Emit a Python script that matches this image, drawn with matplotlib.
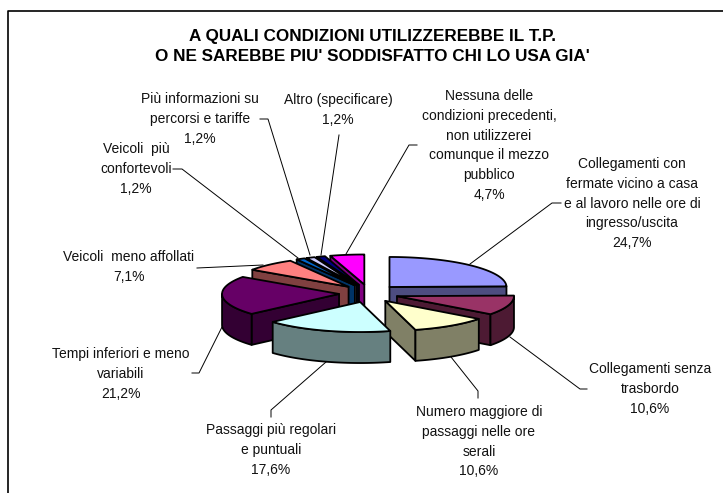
import numpy as np
import matplotlib
matplotlib.use('Agg')
from matplotlib import pyplot as plt
from matplotlib.patches import Polygon

plt.rcParams['font.family'] = ['Liberation Sans', 'DejaVu Sans']

titolo = "A QUALI CONDIZIONI UTILIZZEREBBE IL T.P.\nO NE SAREBBE PIU' SODDISFATTO CHI LO USA GIA'"

categorie = [
    'Collegamenti con\nfermate vicino a casa\ne al lavoro nelle ore di\ningresso/uscita',
    'Collegamenti senza\ntrasbordo',
    'Numero maggiore di\npassaggi nelle ore\nserali',
    'Passaggi più regolari\ne puntuali',
    'Tempi inferiori e meno\nvariabili',
    'Veicoli  meno affollati',
    'Veicoli  più\nconfortevoli',
    'Più informazioni su\npercorsi e tariffe',
    'Altro (specificare)',
    'Nessuna delle\ncondizioni precedenti,\nnon utilizzerei\ncomunque il mezzo\npubblico',
]
valori = [24.7, 10.6, 10.6, 17.6, 21.2, 7.1, 1.2, 1.2, 1.2, 4.7]

colori = ['#9999FF', '#993366', '#FFFFCC', '#CCFFFF', '#660066',
          '#FF8080', '#0066CC', '#CCCCFF', '#000080', '#FF00FF']
scuri = ['#4D4D80', '#4D1A33', '#808066', '#668080', '#330033',
         '#804040', '#003366', '#666680', '#000040', '#800080']

# posizione etichette (centro x, centro y della prima riga)
pos_etichette = [(632, 163), (650, 368), (479, 411), (271, 429), (121, 353),
                 (129, 256), (136, 148), (200, 98), (338, 99), (489, 95)]

# linee guida delle etichette
linee = [
    [(470, 264), (552, 203), (561, 203)],
    [(510, 337), (580, 389), (587, 389)],
    [(451, 357), (478, 391), (478, 398)],
    [(326, 362), (271, 410), (271, 417)],
    [(222, 327), (199, 373), (192, 373)],
    [(263, 265), (197, 268)],
    [(298, 258), (182, 169), (173, 169)],
    [(310, 255), (268, 119), (260, 119)],
    [(321, 255), (339, 135)],
    [(346, 254), (409, 145), (417, 145)],
]

cx, cy = 368.7, 293.4   # centro torta
rx, ry = 117, 30
ex, ey = 29.7, 9        # esplosione
prof = 31               # spessore


def punti(t, ax0, ay0):
    t = np.radians(t)
    return np.column_stack([ax0 + rx*np.sin(t), ay0 - ry*np.cos(t)])


fig = plt.figure(figsize=(7.23, 4.93), dpi=100)
ax = fig.add_axes([0, 0, 1, 1])
ax.set_xlim(0, 723)
ax.set_ylim(493, 0)
ax.axis('off')

# cornice aperta in basso e a destra
ax.plot([7.5, 7.5, 723], [493, 11, 11], color='black', lw=1.2)

ang = np.cumsum([0] + valori) * 360 / sum(valori)
fette = []
for i in range(len(valori)):
    a0, a1 = ang[i], ang[i+1]
    m = np.radians((a0 + a1) / 2)
    fette.append((i, a0, a1, cx + ex*np.sin(m), cy - ey*np.cos(m)))

ordine = [9, 8, 7, 6, 5, 4, 0, 1, 2, 3]
z = 2
for i in ordine:
    _, a0, a1, ax0, ay0 = fette[i]
    giu = np.array([0, prof])
    apice = np.array([[ax0, ay0]])
    # facce radiali visibili
    for t, norm in ((a0, a0 - 90), (a1, a1 + 90)):
        if np.cos(np.radians(norm)) < -1e-6:
            bordo = punti(np.array([t]), ax0, ay0)
            pts = np.vstack([apice, bordo, bordo + giu, apice + giu])
            ax.add_patch(Polygon(pts, closed=True, fc=scuri[i], ec='black', lw=1.3, zorder=z, joinstyle='round'))
            z += 1
    # parte esterna
    lo, hi = max(a0, 90), min(a1, 270)
    if hi > lo:
        arco = punti(np.linspace(lo, hi, 40), ax0, ay0)
        pts = np.vstack([arco, (arco + giu)[::-1]])
        ax.add_patch(Polygon(pts, closed=True, fc=scuri[i], ec='black', lw=1.3, zorder=z, joinstyle='round'))
        z += 1
    # faccia superiore
    arco = punti(np.linspace(a0, a1, 60), ax0, ay0)
    ax.add_patch(Polygon(np.vstack([apice, arco]), closed=True, fc=colori[i], ec='black', lw=1.3, zorder=z, joinstyle='round'))
    z += 1

for l in linee:
    xs, ys = zip(*l)
    ax.plot(xs, ys, color='black', lw=0.7, zorder=z)

for cat, val, (x, y) in zip(categorie, valori, pos_etichette):
    testo = cat + '\n' + f'{val:.1f}'.replace('.', ',') + '%'
    ax.text(x, y - 6, testo, ha='center', va='top', fontsize=10, linespacing=1.53,
            color='#111111', zorder=z)

ax.text(372.5, 46.5, titolo, ha='center', va='center', fontsize=12.3, fontweight='bold',
        linespacing=1.47, color='black')

fig.savefig('out.png', dpi=100)
